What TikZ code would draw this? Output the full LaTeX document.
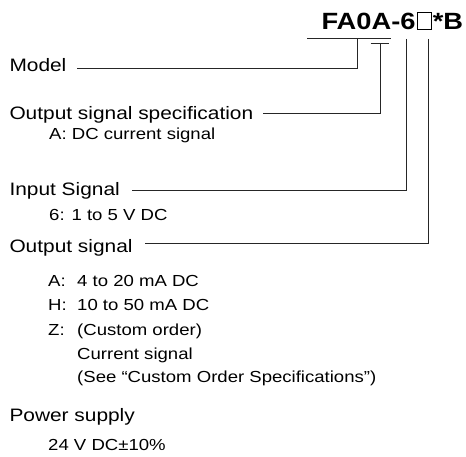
\documentclass[tikz,border=0pt]{standalone}
\usepackage{fontspec}
\setmainfont{Liberation Sans}[FakeStretch=1.16]
\newcommand{\optcol}[2]{\makebox[29pt][l]{#1}#2}
\newcommand{\blankbox}{\hspace{1.5pt}{\setlength{\fboxsep}{0pt}\setlength{\fboxrule}{0.9pt}\fbox{\rule{0pt}{16pt}\rule{13pt}{0pt}}}\hspace{1pt}}

\begin{document}
\begin{tikzpicture}[x=1pt,y=1pt,
   lbl/.style={anchor=base west,inner sep=0pt,font=\fontsize{18}{22}\selectfont},
   opt/.style={anchor=base west,inner sep=0pt,font=\fontsize{16}{19}\selectfont},
   lead/.style={line width=1pt,black!85}]
   \useasboundingbox (0,0) rectangle (466,457);

   \node[anchor=base east,inner sep=0pt,font=\fontsize{23.5}{28}\bfseries] (code) at (463.3,427.7) {FA0A-6\blankbox*B};

   \node[lbl] (model) at (9.3,385.3) {Model};
   \node[lbl] (spec) at (9.3,337) {Output signal specification};
   \node[opt] (specA) at (49,317) {A: DC current signal};
   \node[lbl] (input) at (9.3,261) {Input Signal};
   \node[opt] (in6) at (49,236.5) {6: 1 to 5 V DC};
   \node[lbl] (output) at (9.3,204.3) {Output signal};
   \node[opt] (outA) at (48,170) {\optcol{A:}{4 to 20 mA DC}};
   \node[opt] (outH) at (48,146) {\optcol{H:}{10 to 50 mA DC}};
   \node[opt] (outZ) at (48,121.5) {\optcol{Z:}{(Custom order)}};
   \node[opt] (outZa) at (77,97.7) {Current signal};
   \node[opt] (outZb) at (77,74.5) {(See “Custom Order Specifications”)};
   \node[lbl] (power) at (9.3,35.3) {Power supply};
   \node[opt] (volt) at (48,6) {24 V DC±10\%};

   % taps under the code
   \coordinate (barL) at (307,418);
   \coordinate (barR) at (391,418);
   \coordinate (tapModel) at (357.3,418);
   \coordinate (teeL) at (370.7,413.7);
   \coordinate (teeR) at (389.3,413.7);
   \coordinate (tapSpec) at (380,413.7);
   \coordinate (tapIn) at (406,418);
   \coordinate (tapOut) at (428,418);
   % free ends beside the labels
   \coordinate (endModel) at (77.3,388);
   \coordinate (endSpec) at (263.3,343.7);
   \coordinate (endIn) at (131.7,266.3);
   \coordinate (endOut) at (145,213);

   \draw[lead] (barL) -- (barR);
   \draw[lead] (teeL) -- (teeR);
   \draw[lead] (tapModel) |- (endModel);
   \draw[lead] (tapSpec) |- (endSpec);
   \draw[lead] (tapIn) |- (endIn);
   \draw[lead] (tapOut) |- (endOut);
\end{tikzpicture}
\end{document}
